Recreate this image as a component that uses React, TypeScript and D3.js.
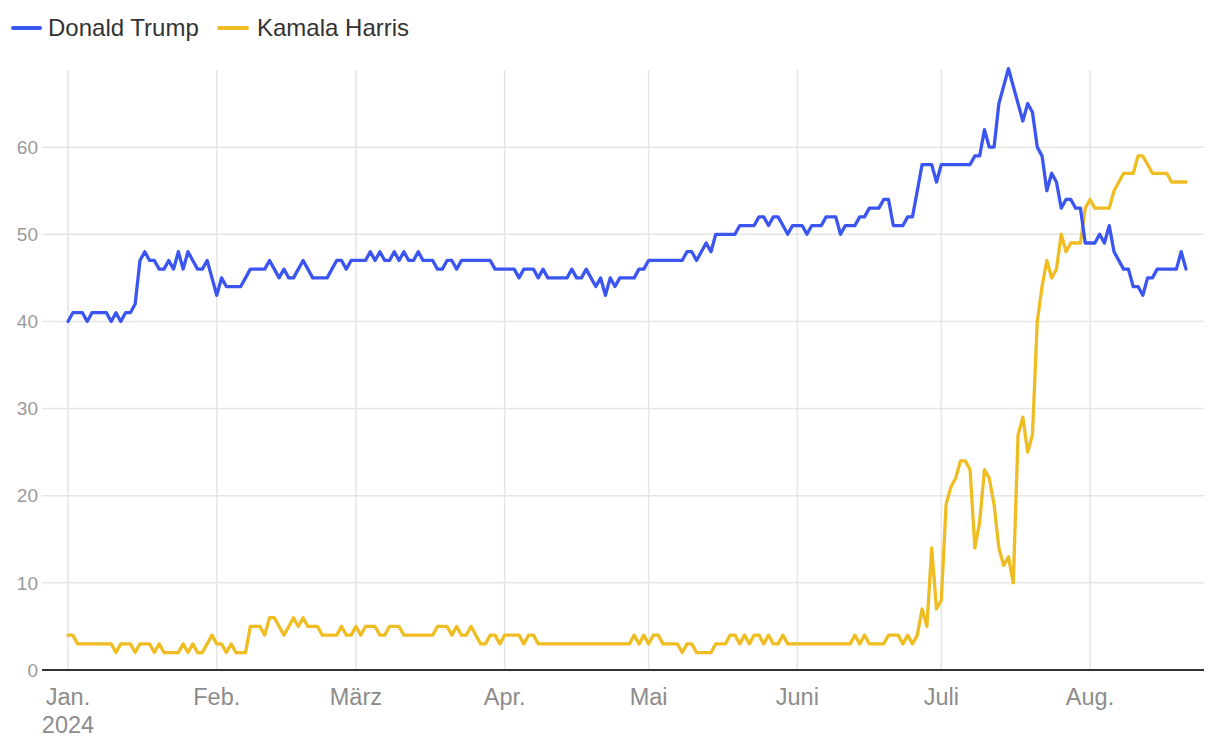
import React from "react";
import * as d3 from "d3";

const startDate = new Date(2024, 0, 1);

const trumpValues: number[] = [
  40, 41, 41, 41, 40, 41, 41, 41, 41, 40,
  41, 40, 41, 41, 42, 47, 48, 47, 47, 46,
  46, 47, 46, 48, 46, 48, 47, 46, 46, 47,
  45, 43, 45, 44, 44, 44, 44, 45, 46, 46,
  46, 46, 47, 46, 45, 46, 45, 45, 46, 47,
  46, 45, 45, 45, 45, 46, 47, 47, 46, 47,
  47, 47, 47, 48, 47, 48, 47, 47, 48, 47,
  48, 47, 47, 48, 47, 47, 47, 46, 46, 47,
  47, 46, 47, 47, 47, 47, 47, 47, 47, 46,
  46, 46, 46, 46, 45, 46, 46, 46, 45, 46,
  45, 45, 45, 45, 45, 46, 45, 45, 46, 45,
  44, 45, 43, 45, 44, 45, 45, 45, 45, 46,
  46, 47, 47, 47, 47, 47, 47, 47, 47, 48,
  48, 47, 48, 49, 48, 50, 50, 50, 50, 50,
  51, 51, 51, 51, 52, 52, 51, 52, 52, 51,
  50, 51, 51, 51, 50, 51, 51, 51, 52, 52,
  52, 50, 51, 51, 51, 52, 52, 53, 53, 53,
  54, 54, 51, 51, 51, 52, 52, 55, 58, 58,
  58, 56, 58, 58, 58, 58, 58, 58, 58, 59,
  59, 62, 60, 60, 65, 67, 69, 67, 65, 63,
  65, 64, 60, 59, 55, 57, 56, 53, 54, 54,
  53, 53, 49, 49, 49, 50, 49, 51, 48, 47,
  46, 46, 44, 44, 43, 45, 45, 46, 46, 46,
  46, 46, 48, 46,
];

const harrisValues: number[] = [
  4, 4, 3, 3, 3, 3, 3, 3, 3, 3,
  2, 3, 3, 3, 2, 3, 3, 3, 2, 3,
  2, 2, 2, 2, 3, 2, 3, 2, 2, 3,
  4, 3, 3, 2, 3, 2, 2, 2, 5, 5,
  5, 4, 6, 6, 5, 4, 5, 6, 5, 6,
  5, 5, 5, 4, 4, 4, 4, 5, 4, 4,
  5, 4, 5, 5, 5, 4, 4, 5, 5, 5,
  4, 4, 4, 4, 4, 4, 4, 5, 5, 5,
  4, 5, 4, 4, 5, 4, 3, 3, 4, 4,
  3, 4, 4, 4, 4, 3, 4, 4, 3, 3,
  3, 3, 3, 3, 3, 3, 3, 3, 3, 3,
  3, 3, 3, 3, 3, 3, 3, 3, 4, 3,
  4, 3, 4, 4, 3, 3, 3, 3, 2, 3,
  3, 2, 2, 2, 2, 3, 3, 3, 4, 4,
  3, 4, 3, 4, 4, 3, 4, 3, 3, 4,
  3, 3, 3, 3, 3, 3, 3, 3, 3, 3,
  3, 3, 3, 3, 4, 3, 4, 3, 3, 3,
  3, 4, 4, 4, 3, 4, 3, 4, 7, 5,
  14, 7, 8, 19, 21, 22, 24, 24, 23, 14,
  17, 23, 22, 19, 14, 12, 13, 10, 27, 29,
  25, 27, 40, 44, 47, 45, 46, 50, 48, 49,
  49, 49, 53, 54, 53, 53, 53, 53, 55, 56,
  57, 57, 57, 59, 59, 58, 57, 57, 57, 57,
  56, 56, 56, 56,
];

const seriesNames = ["Donald Trump", "Kamala Harris"];
const seriesColors = ["#3b55f0", "#efbd22"];
const monthLabels = ["Jan.", "Feb.", "März", "Apr.", "Mai", "Juni", "Juli", "Aug."];
const yTicks = [0, 10, 20, 30, 40, 50, 60];
const yearLabel = "2024";

const W = 1220;
const H = 746;

export default function App() {
  const dates = trumpValues.map((_, i) => d3.timeDay.offset(startDate, i));
  const x = d3
    .scaleTime()
    .domain([startDate, dates[dates.length - 1]])
    .range([68, 1186]);
  const y = d3.scaleLinear().domain([0, 70]).range([670, 60]);

  const line = d3
    .line<number>()
    .x((_, i) => x(dates[i]))
    .y((v) => y(v))
    .curve(d3.curveLinear);

  const monthTicks = d3.range(0, 8).map((m) => new Date(2024, m, 1));
  const font = "'Liberation Sans', Arial, Helvetica, sans-serif";

  return (
    <svg
      width={W}
      height={H}
      style={{ position: "absolute", left: 0, top: 0, background: "#fff" }}
      fontFamily={font}
    >
      {yTicks.slice(1).map((t) => (
        <line key={"h" + t} x1={42} x2={1204} y1={y(t)} y2={y(t)} stroke="#e5e5e5" strokeWidth={1.5} />
      ))}
      {monthTicks.map((d, i) => (
        <line key={"v" + i} x1={x(d)} x2={x(d)} y1={70} y2={670} stroke="#e5e5e5" strokeWidth={1.5} />
      ))}
      {yTicks.map((t) => (
        <text key={"yl" + t} x={38} y={y(t)} dy="0.35em" textAnchor="end" fontSize={19} fill="#9a9a9a">
          {t}
        </text>
      ))}
      {monthTicks.map((d, i) => (
        <text key={"xl" + i} x={x(d)} y={697} dy="0.35em" textAnchor="middle" fontSize={23.5} fill="#8c8c8c">
          {monthLabels[i]}
        </text>
      ))}
      <text x={x(monthTicks[0])} y={725} dy="0.35em" textAnchor="middle" fontSize={23.5} fill="#8c8c8c">
        {yearLabel}
      </text>
      <line x1={42} x2={1204} y1={670} y2={670} stroke="#333" strokeWidth={2} />
      <path d={line(harrisValues) || ""} fill="none" stroke={seriesColors[1]} strokeWidth={3.3} strokeLinejoin="round" strokeLinecap="round" />
      <path d={line(trumpValues) || ""} fill="none" stroke={seriesColors[0]} strokeWidth={3.3} strokeLinejoin="round" strokeLinecap="round" />
      <g>
        <line x1={13} x2={40} y1={28} y2={28} stroke={seriesColors[0]} strokeWidth={4} strokeLinecap="round" />
        <text x={48} y={28} dy="0.35em" fontSize={24} fill="#333">{seriesNames[0]}</text>
        <line x1={219} x2={247} y1={28} y2={28} stroke={seriesColors[1]} strokeWidth={4} strokeLinecap="round" />
        <text x={257} y={28} dy="0.35em" fontSize={24} fill="#333">{seriesNames[1]}</text>
      </g>
    </svg>
  );
}
